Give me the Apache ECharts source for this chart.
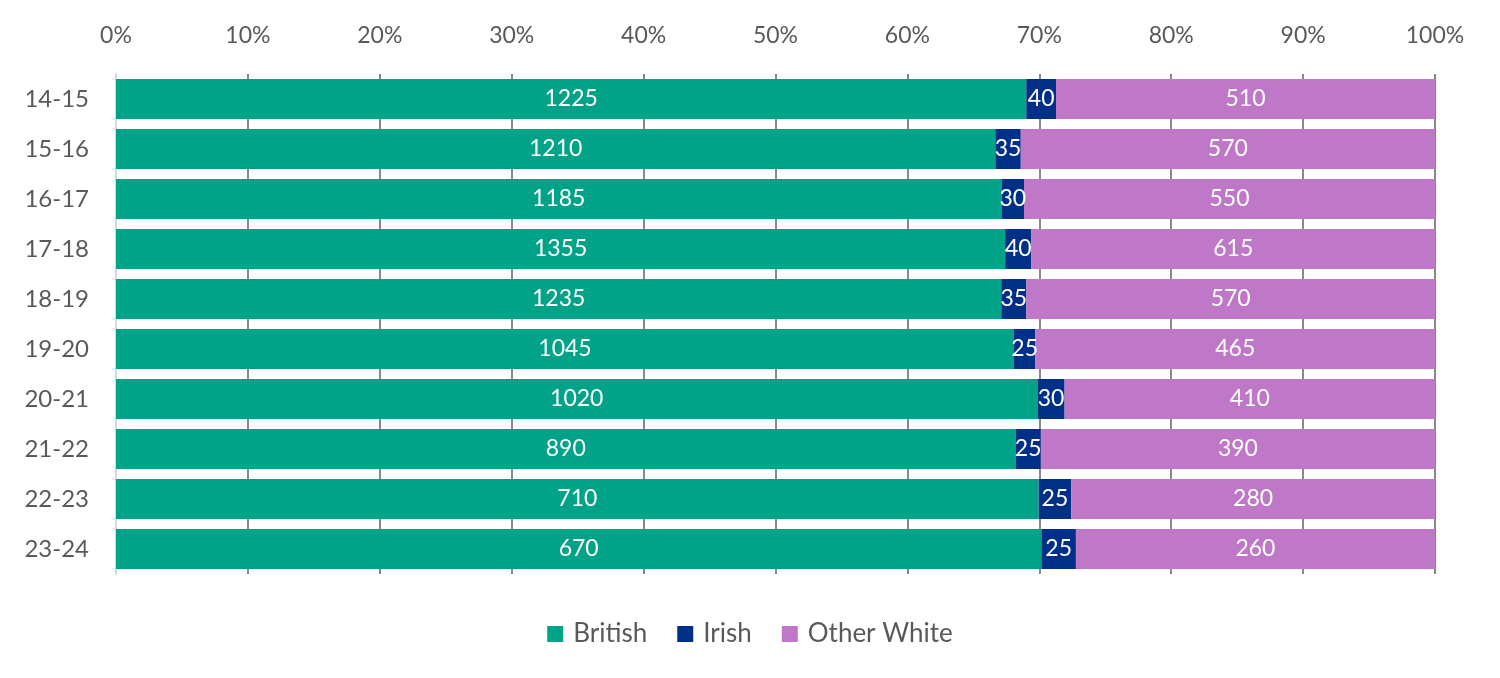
<!DOCTYPE html>
<html><head><meta charset="utf-8">
<script src="https://cdn.jsdelivr.net/npm/echarts@6/dist/echarts.min.js"></script>
<style>html,body{margin:0;padding:0;background:#fff}#c{width:1500px;height:678px}</style>
</head><body><div id="c"></div>
<script>
const categories = ['14-15','15-16','16-17','17-18','18-19','19-20','20-21','21-22','22-23','23-24'];
const british = [1225,1210,1185,1355,1235,1045,1020,890,710,670];
const irish = [40,35,30,40,35,25,30,25,25,25];
const otherWhite = [510,570,550,615,570,465,410,390,280,260];
const seriesNames = ['British','Irish','Other White'];
const colors = ['#00A387','#002F87','#BF78C7'];

const raw = [british, irish, otherWhite];
const totals = categories.map((_, i) => british[i] + irish[i] + otherWhite[i]);
const font = 'Lato, "Open Sans", sans-serif';

const chart = echarts.init(document.getElementById('c'));
chart.setOption({
  animation: false,
  color: colors,
  grid: {left: 116, right: 65, top: 74, bottom: 104},
  legend: {
    bottom: 26, left: 'center', itemWidth: 16, itemHeight: 16, itemGap: 30,
    icon: 'rect',
    textStyle: {fontFamily: font, fontSize: 26, color: '#595959', padding: [0, 0, 0, 5]},
    data: seriesNames
  },
  xAxis: {
    type: 'value', position: 'top', min: 0, max: 100, interval: 10,
    axisLabel: {formatter: '{value}%', fontFamily: font, fontSize: 23, color: '#595959', margin: 27},
    axisLine: {show: false}, axisTick: {show: false},
    splitLine: {show: true, lineStyle: {color: '#888888', width: 2}}
  },
  yAxis: {
    type: 'category', inverse: true, data: categories,
    axisLabel: {fontFamily: font, fontSize: 24, color: '#595959', margin: 27},
    axisLine: {show: true, lineStyle: {color: '#D9D9D9', width: 2}},
    axisTick: {show: false}
  },
  series: raw.map((arr, s) => ({
    name: seriesNames[s], type: 'bar', stack: 'total', barCategoryGap: '20%',
    data: arr.map((v, i) => ({value: v / totals[i] * 100, raw: v})),
    label: {
      show: true, position: 'inside', color: '#fff', fontFamily: font, fontSize: 23,
      formatter: p => p.data.raw
    }
  }))
});
</script></body></html>
